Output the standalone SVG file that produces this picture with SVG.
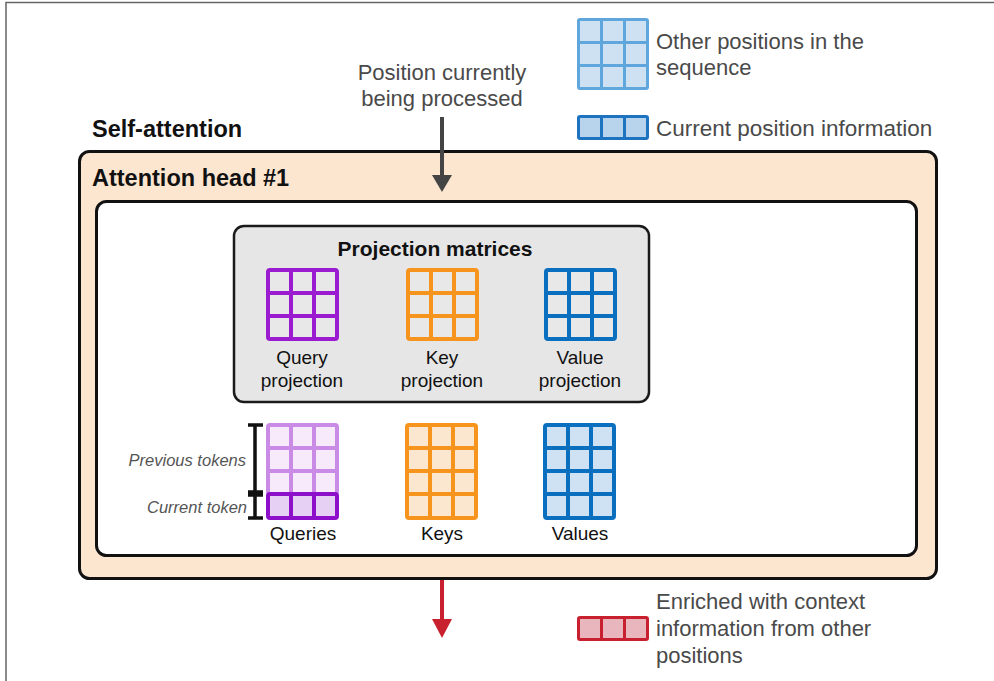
<svg xmlns="http://www.w3.org/2000/svg" width="994" height="681" viewBox="0 0 994 681">
<style>
text{font-family:"Liberation Sans",Arial,sans-serif;}
.ann{font-size:22px;fill:#4a4a4a;}
.lbl{font-size:19px;fill:#111;}
.hd{font-size:23.5px;font-weight:bold;fill:#111;}
.it{font-size:16.5px;font-style:italic;fill:#555;text-anchor:end;}
.mid{text-anchor:middle;}
.box{stroke:#111;stroke-width:3;}
.g{stroke-width:4;stroke-linejoin:round;}
.pq{stroke:#9b1bd0;fill:#e8e8e8;}
.pk{stroke:#f7941d;fill:#e8e8e8;}
.pv{stroke:#0b6fc0;fill:#e8e8e8;}
.qlt{stroke:#c98be6;fill:#f6eafb;}
.qdk{stroke:#8d0fc9;fill:#e6d0f3;}
.kk{stroke:#f7941d;fill:#fbe6cf;}
.vv{stroke:#0b6fc0;fill:#cfe2f3;}
.lg{stroke:#5fa6dc;fill:#cde1f3;stroke-width:3;}
.lc{stroke:#1e73c0;fill:#b8d3ec;stroke-width:3;}
.lr{stroke:#c8202f;fill:#e9b6be;stroke-width:3;}
</style>
<g id="frame"><path d="M6,681 V2.5 H994" fill="none" stroke="#666" stroke-width="1.5"/></g>

<g id="legend-other">
<rect class="lg" x="578.5" y="19.5" width="69" height="69" rx="1.5"/>
<path class="lg" fill="none" d="M601.5,19.5V88.5M624.5,19.5V88.5M578.5,42.5H647.5M578.5,65.5H647.5"/>
<text class="ann" x="656" y="49">Other positions in the</text>
<text class="ann" x="656" y="75">sequence</text>
</g>
<g id="legend-current">
<rect class="lc" x="578.5" y="116.5" width="69" height="22" rx="1.5"/>
<path class="lc" fill="none" d="M601.5,116.5V138.5M624.5,116.5V138.5"/>
<text class="ann" x="656" y="136" style="font-size:22.5px">Current position information</text>
</g>
<g id="position-label">
<text class="ann mid" x="442" y="80">Position currently</text>
<text class="ann mid" x="442" y="106">being processed</text>
</g>
<g id="self-attention-title"><text class="hd" x="92" y="137">Self-attention</text></g>

<g id="attention-head">
<rect class="box" x="79.5" y="151.5" width="857" height="427" rx="10" fill="#fde6d0"/>
<text class="hd" x="92" y="186">Attention head #1</text>
</g>
<g id="inner">
<rect class="box" x="96.5" y="201.5" width="820" height="354" rx="10" fill="#fff"/>
</g>
<g id="projection-matrices">
<rect x="234" y="226" width="415" height="176" rx="10" fill="#e6e6e6" stroke="#1a1a1a" stroke-width="2.5"/>
<text class="hd mid" x="435" y="256" style="font-size:21px">Projection matrices</text>
</g>
<g id="query-projection">
<rect class="g pq" x="268" y="270" width="69" height="69" rx="2"/>
<path class="g pq" fill="none" d="M291,270V339M314,270V339M268,293H337M268,316H337"/>
<text class="lbl mid" x="302" y="364">Query</text>
<text class="lbl mid" x="302" y="387">projection</text>
</g>
<g id="key-projection">
<rect class="g pk" x="408" y="270" width="69" height="69" rx="2"/>
<path class="g pk" fill="none" d="M431,270V339M454,270V339M408,293H477M408,316H477"/>
<text class="lbl mid" x="442" y="364">Key</text>
<text class="lbl mid" x="442" y="387">projection</text>
</g>
<g id="value-projection">
<rect class="g pv" x="546" y="270" width="69" height="69" rx="2"/>
<path class="g pv" fill="none" d="M569,270V339M592,270V339M546,293H615M546,316H615"/>
<text class="lbl mid" x="580" y="364">Value</text>
<text class="lbl mid" x="580" y="387">projection</text>
</g>
<g id="queries">
<rect class="g qlt" x="268" y="425" width="69" height="69" rx="2"/>
<path class="g qlt" fill="none" d="M291,425V494M314,425V494M268,448H337M268,471H337"/>
<rect class="g qdk" x="268" y="494" width="69" height="24" rx="2"/>
<path class="g qdk" fill="none" d="M291,494V518M314,494V518"/>
<text class="lbl mid" x="303" y="540">Queries</text>
</g>
<g id="token-bracket">
<path d="M255,425V492M248,425H263M248,492H263M255,495V518M248,495H263M248,518H263" fill="none" stroke="#111" stroke-width="3.5"/>
<text class="it" x="246" y="466">Previous tokens</text>
<text class="it" x="247" y="513">Current token</text>
</g>
<g id="keys">
<rect class="g kk" x="407" y="425" width="69" height="93" rx="2"/>
<path class="g kk" fill="none" d="M430,425V518M453,425V518M407,448H476M407,471H476M407,494H476"/>
<text class="lbl mid" x="442" y="540">Keys</text>
</g>
<g id="values">
<rect class="g vv" x="545" y="425" width="69" height="93" rx="2"/>
<path class="g vv" fill="none" d="M568,425V518M591,425V518M545,448H614M545,471H614M545,494H614"/>
<text class="lbl mid" x="580" y="540">Values</text>
</g>
<g id="legend-enriched">
<rect class="lr" x="578.5" y="617.5" width="69" height="22" rx="1.5"/>
<path class="lr" fill="none" d="M601.5,617.5V639.5M624.5,617.5V639.5"/>
<text class="ann" x="656" y="609">Enriched with context</text>
<text class="ann" x="656" y="636">information from other</text>
<text class="ann" x="656" y="663">positions</text>
</g>
<g id="connectors">
<line x1="442" y1="117" x2="442" y2="176" stroke="#444" stroke-width="4"/>
<path d="M432,175 L452,175 L442,192 Z" fill="#444"/>
<line x1="442" y1="580" x2="442" y2="620" stroke="#c8202f" stroke-width="4"/>
<path d="M432,619 L452,619 L442,638 Z" fill="#c8202f"/>
</g>
</svg>
